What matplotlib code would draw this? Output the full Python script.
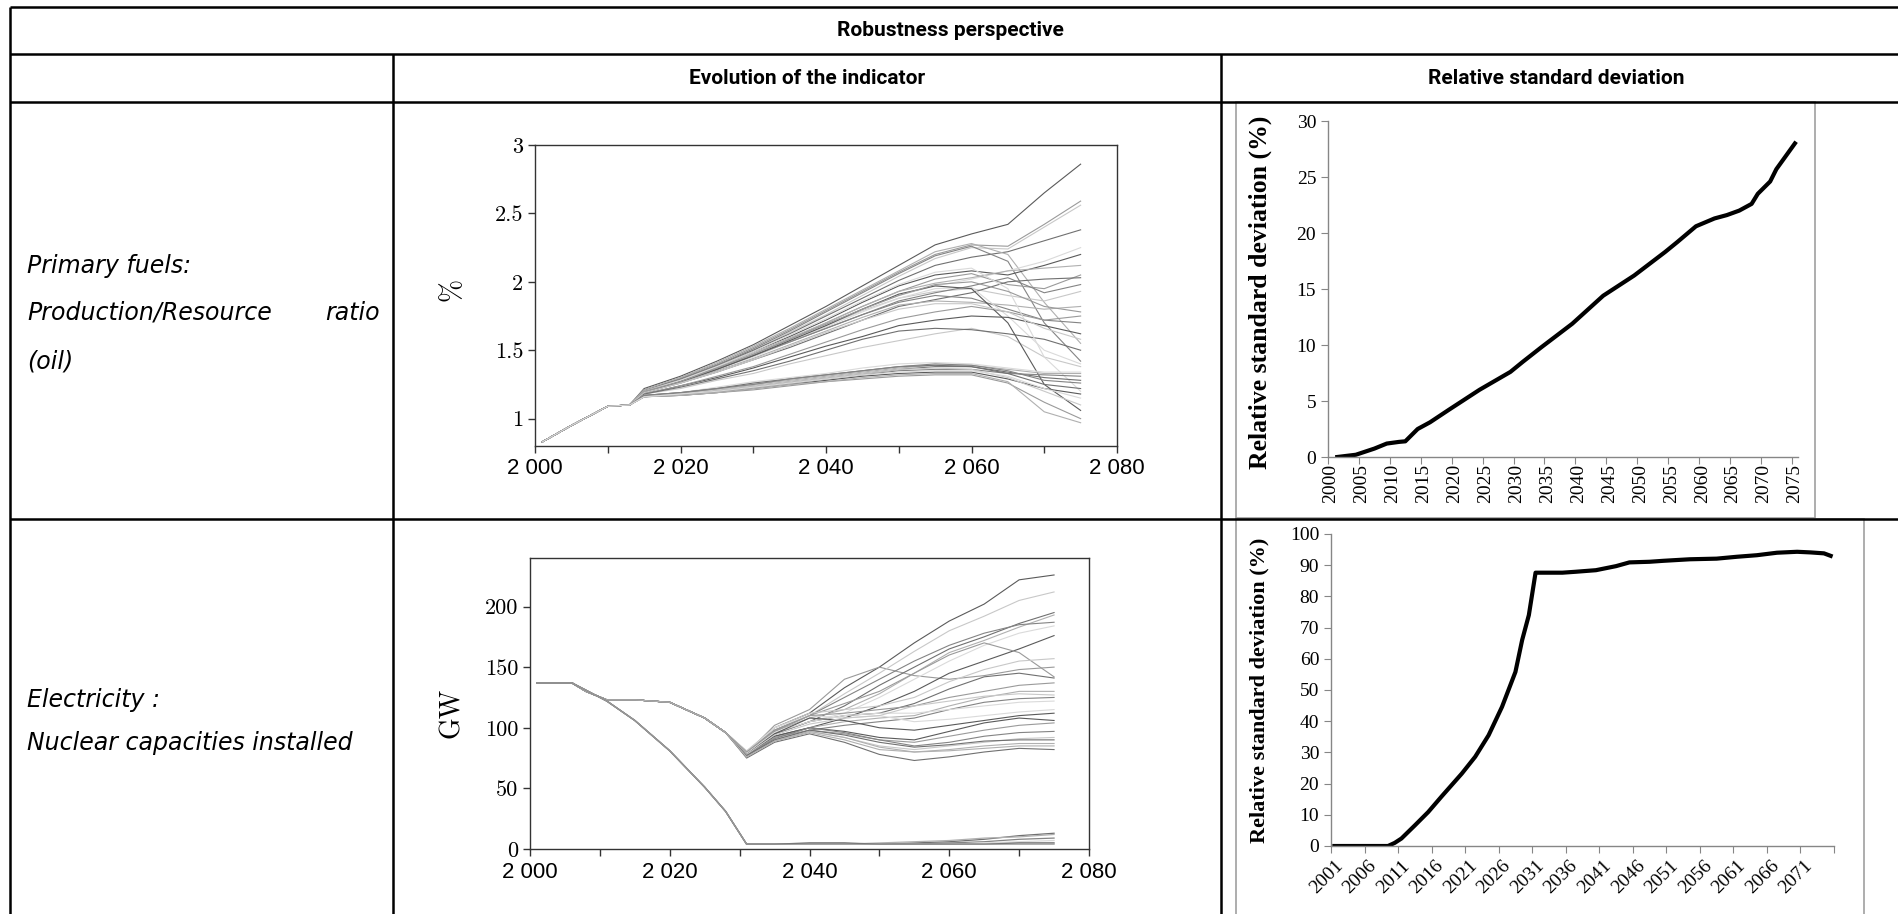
import matplotlib
matplotlib.use("Agg")
import matplotlib.pyplot as plt
from matplotlib.lines import Line2D
from matplotlib.patches import Rectangle

# ---- oil: production/resource ratio (%) for each run ----
oil_early_years = [2001, 2005, 2010, 2013]
oil_early = [0.83, 0.95, 1.09, 1.10]
oil_years = [2015, 2020, 2025, 2030, 2035, 2040, 2045, 2050, 2055, 2060, 2065, 2070, 2075]
oil_runs = [
    [1.22, 1.31, 1.42, 1.54, 1.68, 1.82, 1.97, 2.12, 2.27, 2.35, 2.42, 2.65, 2.86],
    [1.21, 1.30, 1.40, 1.52, 1.65, 1.79, 1.93, 2.07, 2.20, 2.27, 2.26, 2.42, 2.59],
    [1.21, 1.29, 1.39, 1.50, 1.63, 1.76, 1.90, 2.04, 2.17, 2.25, 2.24, 2.40, 2.56],
    [1.21, 1.29, 1.39, 1.50, 1.62, 1.75, 1.88, 2.01, 2.12, 2.18, 2.22, 2.30, 2.38],
    [1.21, 1.30, 1.41, 1.53, 1.66, 1.80, 1.94, 2.08, 2.22, 2.28, 2.20, 1.85, 1.55],
    [1.20, 1.29, 1.39, 1.51, 1.64, 1.78, 1.92, 2.06, 2.19, 2.26, 2.15, 1.70, 1.42],
    [1.20, 1.28, 1.37, 1.47, 1.58, 1.69, 1.80, 1.90, 1.97, 2.02, 2.08, 2.15, 2.25],
    [1.20, 1.28, 1.38, 1.49, 1.60, 1.72, 1.85, 1.97, 2.05, 2.08, 2.05, 2.12, 2.20],
    [1.20, 1.28, 1.37, 1.47, 1.58, 1.70, 1.82, 1.93, 2.02, 2.06, 1.98, 1.95, 2.05],
    [1.19, 1.27, 1.36, 1.46, 1.57, 1.68, 1.79, 1.88, 1.93, 1.95, 1.90, 1.86, 1.93],
    [1.19, 1.26, 1.34, 1.43, 1.52, 1.62, 1.72, 1.82, 1.87, 1.92, 2.00, 2.02, 2.03],
    [1.19, 1.26, 1.35, 1.44, 1.54, 1.64, 1.74, 1.83, 1.86, 1.85, 1.83, 1.80, 1.82],
    [1.19, 1.27, 1.36, 1.46, 1.56, 1.66, 1.76, 1.85, 1.90, 1.88, 1.80, 1.72, 1.70],
    [1.19, 1.27, 1.36, 1.45, 1.56, 1.67, 1.78, 1.88, 1.95, 1.96, 1.75, 1.50, 1.40],
    [1.18, 1.24, 1.30, 1.37, 1.45, 1.53, 1.60, 1.68, 1.72, 1.75, 1.74, 1.68, 1.62],
    [1.18, 1.24, 1.31, 1.38, 1.47, 1.56, 1.65, 1.73, 1.78, 1.82, 1.78, 1.72, 1.75],
    [1.18, 1.22, 1.28, 1.33, 1.40, 1.46, 1.52, 1.57, 1.62, 1.66, 1.60, 1.45, 1.38],
    [1.18, 1.23, 1.29, 1.35, 1.42, 1.50, 1.58, 1.64, 1.66, 1.65, 1.62, 1.58, 1.50],
    [1.20, 1.28, 1.38, 1.48, 1.59, 1.70, 1.82, 1.93, 1.99, 2.03, 2.08, 2.10, 2.12],
    [1.20, 1.27, 1.36, 1.46, 1.56, 1.66, 1.76, 1.86, 1.92, 1.97, 2.03, 1.92, 1.98],
    [1.20, 1.28, 1.38, 1.49, 1.61, 1.73, 1.86, 1.98, 2.07, 2.10, 1.95, 1.45, 1.20],
    [1.19, 1.27, 1.36, 1.46, 1.57, 1.68, 1.80, 1.91, 1.97, 1.95, 1.70, 1.25, 1.06],
    [1.20, 1.27, 1.37, 1.47, 1.58, 1.69, 1.80, 1.90, 1.98, 2.00, 1.93, 1.82, 1.78],
    [1.19, 1.26, 1.34, 1.43, 1.53, 1.63, 1.72, 1.80, 1.84, 1.84, 1.78, 1.66, 1.58],
    [1.16, 1.18, 1.21, 1.24, 1.27, 1.30, 1.33, 1.36, 1.38, 1.38, 1.34, 1.30, 1.28],
    [1.17, 1.19, 1.22, 1.25, 1.28, 1.31, 1.34, 1.37, 1.39, 1.39, 1.36, 1.33, 1.33],
    [1.16, 1.18, 1.20, 1.23, 1.26, 1.29, 1.32, 1.35, 1.36, 1.36, 1.33, 1.32, 1.31],
    [1.17, 1.19, 1.23, 1.27, 1.30, 1.33, 1.37, 1.40, 1.41, 1.40, 1.37, 1.34, 1.34],
    [1.16, 1.17, 1.19, 1.22, 1.25, 1.28, 1.31, 1.33, 1.34, 1.34, 1.29, 1.22, 1.18],
    [1.16, 1.17, 1.19, 1.21, 1.24, 1.27, 1.29, 1.31, 1.32, 1.32, 1.26, 1.12, 1.00],
    [1.16, 1.18, 1.21, 1.24, 1.27, 1.30, 1.33, 1.36, 1.37, 1.36, 1.30, 1.20, 1.10],
    [1.17, 1.19, 1.22, 1.26, 1.29, 1.32, 1.35, 1.38, 1.39, 1.38, 1.33, 1.25, 1.22],
    [1.16, 1.17, 1.19, 1.22, 1.25, 1.27, 1.30, 1.32, 1.33, 1.33, 1.27, 1.05, 0.97],
    [1.17, 1.19, 1.22, 1.25, 1.29, 1.32, 1.35, 1.38, 1.40, 1.39, 1.35, 1.28, 1.26],
    [1.16, 1.18, 1.20, 1.23, 1.26, 1.29, 1.32, 1.34, 1.35, 1.35, 1.31, 1.22, 1.15],
]

# ---- oil: relative standard deviation (%) ----
oil_rsd_years = [2001, 2004, 2007, 2009, 2011, 2012, 2014, 2016, 2019, 2024, 2029, 2031,
                 2034, 2039, 2044, 2049, 2054, 2056, 2059, 2062, 2064, 2066, 2068, 2069,
                 2071, 2072, 2075]
oil_rsd = [0.0, 0.2, 0.75, 1.2, 1.35, 1.4, 2.5, 3.1, 4.2, 6.0, 7.6, 8.5,
           9.8, 11.9, 14.4, 16.2, 18.3, 19.2, 20.6, 21.3, 21.6, 22.0, 22.6, 23.5,
           24.6, 25.7, 28.0]

# ---- nuclear capacities installed (GW) ----
nuc_early_years = [2001, 2006, 2008, 2011, 2015, 2020, 2025, 2028]
nuc_early = [137, 137, 130, 123, 123, 121, 108, 96]
nuc_years = [2031, 2035, 2040, 2045, 2050, 2055, 2060, 2065, 2070, 2075]
nuc_runs = [
    [80, 100, 112, 133, 150, 170, 188, 202, 222, 226],
    [79, 102, 115, 140, 150, 143, 140, 143, 148, 150],
    [80, 98, 110, 128, 145, 163, 180, 192, 205, 212],
    [78, 95, 105, 118, 135, 150, 165, 175, 186, 195],
    [79, 97, 108, 115, 128, 145, 162, 172, 183, 193],
    [80, 98, 110, 125, 140, 155, 168, 178, 185, 187],
    [78, 95, 105, 112, 125, 140, 155, 168, 178, 184],
    [77, 93, 100, 108, 118, 130, 145, 155, 165, 176],
    [79, 97, 110, 120, 130, 145, 160, 170, 162, 142],
    [81, 100, 112, 115, 118, 125, 138, 148, 155, 157],
    [78, 95, 105, 110, 112, 120, 132, 142, 145, 141],
    [77, 92, 100, 105, 108, 110, 118, 125, 130, 130],
    [76, 90, 98, 102, 105, 108, 115, 121, 124, 125],
    [80, 100, 110, 108, 110, 105, 107, 110, 113, 115],
    [78, 93, 100, 97, 92, 90, 97, 104, 108, 106],
    [77, 92, 98, 95, 90, 88, 93, 98, 102, 104],
    [76, 90, 97, 92, 85, 82, 85, 88, 91, 92],
    [75, 88, 95, 88, 78, 73, 76, 80, 83, 82],
    [76, 89, 96, 90, 82, 80, 82, 85, 87, 87],
    [77, 91, 100, 96, 90, 85, 88, 93, 96, 97],
    [79, 96, 105, 110, 112, 112, 115, 118, 121, 122],
    [78, 95, 108, 106, 100, 98, 102, 106, 110, 112],
    [80, 98, 110, 112, 115, 118, 125, 130, 135, 137],
    [78, 94, 103, 108, 110, 118, 122, 126, 128, 127],
    [77, 90, 98, 94, 88, 84, 86, 89, 90, 90],
    [76, 89, 97, 92, 84, 80, 81, 83, 85, 85],
]
# runs where nuclear is phased out
nuc_out_early_years = [2001, 2006, 2008, 2011, 2015, 2020, 2025, 2028, 2031]
nuc_out_early = [137, 137, 131, 122, 106, 81, 51, 31, 4]
nuc_out_years = [2035, 2040, 2045, 2050, 2055, 2060, 2065, 2070, 2075]
nuc_out_runs = [
    [4, 4, 4, 4, 5, 6, 8, 11, 13],
    [4, 4, 4, 5, 6, 7, 9, 10, 12],
    [4, 4, 4, 4, 4, 5, 6, 8, 9],
    [4, 4, 4, 4, 4, 4, 5, 6, 7],
    [4, 5, 5, 4, 4, 4, 4, 5, 5],
    [4, 4, 4, 4, 4, 4, 4, 4, 4],
]

# ---- nuclear: relative standard deviation (%) ----
nuc_rsd_years = [2001, 2005, 2009, 2010, 2011, 2013, 2015, 2017, 2020, 2022, 2024,
                 2026, 2028, 2029, 2030, 2031, 2035, 2037, 2040, 2043, 2045, 2048,
                 2050, 2054, 2058, 2061, 2064, 2067, 2070, 2072, 2074, 2075]
nuc_rsd = [0.0, 0.0, 0.0, 1.0, 2.4, 6.6, 10.9, 15.9, 23.2, 28.6, 35.5,
           44.6, 55.8, 66.0, 74.0, 87.6, 87.6, 87.9, 88.4, 89.7, 90.9, 91.1,
           91.4, 91.9, 92.1, 92.7, 93.2, 94.0, 94.3, 94.1, 93.8, 93.0]

W, H = 1898, 914
fig = plt.figure(figsize=(W / 100, H / 100), dpi=100)

grays = ['#5a5a5a', '#9a9a9a', '#c8c8c8', '#707070', '#b0b0b0', '#848484', '#dadada']


def px_axes(x0, y0, x1, y1):
    # figure-pixel box (top-left origin) -> axes
    return fig.add_axes([x0 / W, 1 - y1 / H, (x1 - x0) / W, (y1 - y0) / H])


# ---- table grid and text ----
bg = fig.add_axes([0, 0, 1, 1])
bg.set_xlim(0, W)
bg.set_ylim(H, 0)
bg.axis('off')

bg.add_patch(Rectangle((1236, 102), 1815 - 1236, 518 - 102, fc='white', ec='#a0a0a0', lw=1.2))
bg.add_patch(Rectangle((1236, 519), 1864 - 1236, 420, fc='white', ec='#a0a0a0', lw=1.2))

tline = dict(color='black', lw=1.8, solid_capstyle='butt')
for yy in [7, 54, 102, 519]:
    bg.add_line(Line2D([10, W], [yy, yy], **tline))
bg.add_line(Line2D([10, 10], [7, H], **tline))
for xx in [393, 1221]:
    bg.add_line(Line2D([xx, xx], [54, H], **tline))

head = dict(fontfamily=['Roboto', 'DejaVu Sans'], fontweight='bold', fontsize=15,
            ha='center', va='center')
bg.text(950, 31, 'Robustness perspective', **head)
bg.text(807, 78, 'Evolution of the indicator', **head)
bg.text(1556, 78, 'Relative standard deviation', **head)

lab = dict(fontfamily='DejaVu Sans', fontstyle='oblique', fontsize=17, va='center')
bg.text(27, 266, 'Primary fuels:', ha='left', **lab)
bg.text(27, 313, 'Production/Resource', ha='left', **lab)
bg.text(380, 313, 'ratio', ha='right', **lab)
bg.text(27, 361, '(oil)', ha='left', **lab)
bg.text(27, 700, 'Electricity :', ha='left', **lab)
bg.text(27, 743, 'Nuclear capacities installed', ha='left', **lab)


def spaghetti_style(ax, ylim, yticks, ylabels, ylab, ylab_xy):
    ax.set_xlim(2000, 2080)
    ax.set_ylim(*ylim)
    ax.set_xticks(range(2000, 2081, 20))
    ax.set_xticks(range(2010, 2080, 20), minor=True)
    ax.set_xticklabels(['2 000', '2 020', '2 040', '2 060', '2 080'],
                       fontfamily='Liberation Sans', fontsize=16)
    ax.set_yticks(yticks)
    ax.set_yticklabels(ylabels, fontfamily='cmr10', fontsize=16)
    ax.tick_params(which='both', direction='out', length=5, width=1, color='#333333')
    ax.tick_params(axis='x', pad=4)
    for s in ax.spines.values():
        s.set_color('#333333')
        s.set_linewidth(1)
    ax.set_ylabel(ylab, fontfamily='cmr10', fontsize=20)
    ax.yaxis.set_label_coords(*ylab_xy)


# ---- oil spaghetti ----
ax1 = px_axes(535, 145, 1117, 446)
for i, run in enumerate(oil_runs):
    ax1.plot(oil_early_years + oil_years, oil_early + run, color=grays[i % len(grays)], lw=0.8)
spaghetti_style(ax1, (0.8, 3.0), [1, 1.5, 2, 2.5, 3], ['1', '1.5', '2', '2.5', '3'],
                '%', (-0.12, 0.52))

# ---- nuclear spaghetti ----
ax3 = px_axes(530, 558, 1089, 849)
for i, run in enumerate(nuc_runs):
    ax3.plot(nuc_early_years + nuc_years, nuc_early + run, color=grays[i % len(grays)], lw=0.8)
for i, run in enumerate(nuc_out_runs):
    ax3.plot(nuc_out_early_years + nuc_out_years, nuc_out_early + run,
             color=grays[(i + 3) % len(grays)], lw=0.9)
spaghetti_style(ax3, (0, 240), [0, 50, 100, 150, 200], ['0', '50', '100', '150', '200'],
                'GW', (-0.116, 0.467))


def excel_style(ax, ymax, ystep, lab_xy, lab_size):
    ax.set_ylim(0, ymax)
    ax.set_yticks(range(0, ymax + 1, ystep))
    ax.set_yticklabels([str(v) for v in range(0, ymax + 1, ystep)],
                       fontfamily='Liberation Serif', fontsize=14)
    for s in ['top', 'right']:
        ax.spines[s].set_visible(False)
    for s in ['left', 'bottom']:
        ax.spines[s].set_color('#868686')
        ax.spines[s].set_linewidth(1)
    ax.tick_params(which='major', direction='out', length=5, color='#868686')
    ax.tick_params(which='minor', length=0)
    ax.set_ylabel('Relative standard deviation (%)', fontfamily='Liberation Serif',
                  fontweight='bold', fontsize=lab_size)
    ax.yaxis.set_label_coords(*lab_xy)
    ax.patch.set_alpha(0)


# ---- oil RSD ----
ax2 = px_axes(1328, 121, 1798, 457)
ax2.plot(oil_rsd_years, oil_rsd, color='black', lw=3, solid_joinstyle='round')
ax2.set_xlim(1999.5, 2075.5)
ax2.set_xticks([1999.5 + 5 * k for k in range(16)])
ax2.set_xticklabels([])
lab2 = list(range(2000, 2076, 5))
ax2.set_xticks(lab2, minor=True)
ax2.set_xticklabels([str(v) for v in lab2], minor=True, rotation=90,
                    fontfamily='Liberation Serif', fontsize=14)
ax2.tick_params(axis='x', which='minor', pad=5)
excel_style(ax2, 30, 5, (-0.119, 0.489), 18.5)

# ---- nuclear RSD ----
ax4 = px_axes(1331, 534, 1834, 846)
ax4.plot(nuc_rsd_years, nuc_rsd, color='black', lw=3, solid_joinstyle='round')
ax4.set_xlim(2000.5, 2075.5)
ax4.set_xticks([2000.5 + 5 * k for k in range(16)])
ax4.set_xticklabels([])
lab4 = list(range(2001, 2072, 5))
ax4.set_xticks(lab4, minor=True)
ax4.set_xticklabels([str(v) for v in lab4], minor=True, rotation=45, ha='right',
                    rotation_mode='anchor', fontfamily='Liberation Serif', fontsize=14)
ax4.tick_params(axis='x', which='minor', pad=8)
excel_style(ax4, 100, 10, (-0.123, 0.5), 16)

fig.savefig('out.png', dpi=100)
